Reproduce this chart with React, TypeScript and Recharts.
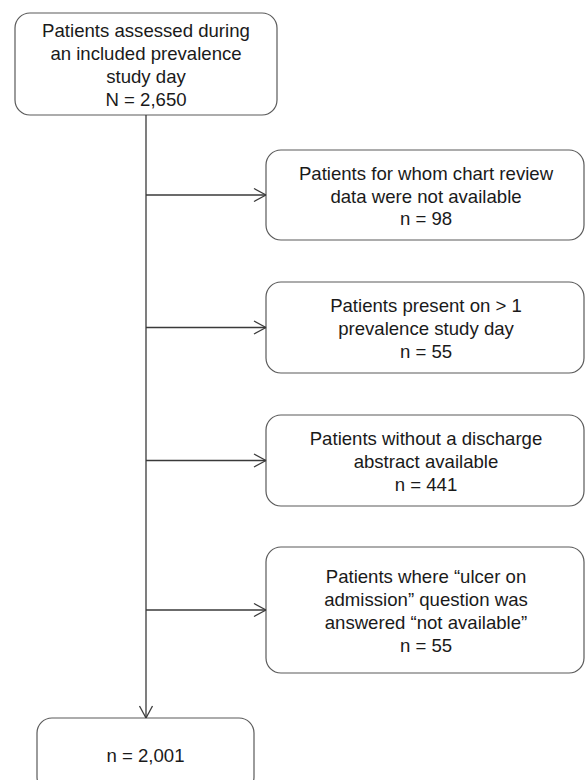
import React from "react";
import {
  ScatterChart,
  Scatter,
  XAxis,
  YAxis,
  ReferenceArea,
  ReferenceLine,
} from "recharts";

// flowchart content
const startLabel = ["Patients assessed during", "an included prevalence", "study day"];
const startCount = 2650;
const exclusionLabels = [
  ["Patients for whom chart review", "data were not available"],
  ["Patients present on > 1", "prevalence study day"],
  ["Patients without a discharge", "abstract available"],
  ["Patients where \u201Culcer on", "admission\u201D question was", "answered \u201Cnot available\u201D"],
];
const exclusionCounts = [98, 55, 441, 55];
const finalCount = 2001;

// layout (pixels == data units, chart is 585 x 780)
const W = 585;
const H = 780;
const SPINE_X = 146;
const START_BOX = { x1: 15, x2: 277, y1: 13, y2: 115 };
const SIDE_X = [266, 584];
const SIDE_Y = [
  [150, 240],
  [282, 373],
  [415, 506],
  [547, 673],
];
const FINAL_BOX = { x1: 37, x2: 254, y1: 718, y2: 792 };

const FONT = "'Liberation Sans', Arial, Helvetica, sans-serif";
const FONT_SIZE = 18.6;
const LINE_H = 22.7;
const BOX_STROKE = "#5a5a5a";
const LINE_STROKE = "#3a3a3a";

const fmt = (n: number) => n.toLocaleString("en-US");

const boxes = [
  { ...START_BOX },
  ...SIDE_Y.map(([y1, y2]) => ({ x1: SIDE_X[0], x2: SIDE_X[1], y1, y2 })),
  { ...FINAL_BOX },
];

const textPoints = [
  {
    x: (START_BOX.x1 + START_BOX.x2) / 2,
    y: (START_BOX.y1 + START_BOX.y2) / 2 + 1,
    lines: [...startLabel, `N = ${fmt(startCount)}`],
  },
  ...exclusionLabels.map((lbl, i) => ({
    x: (SIDE_X[0] + SIDE_X[1]) / 2 + 1,
    y: (SIDE_Y[i][0] + SIDE_Y[i][1]) / 2 + 1,
    lines: [...lbl, `n = ${fmt(exclusionCounts[i])}`],
  })),
  {
    x: (FINAL_BOX.x1 + FINAL_BOX.x2) / 2,
    y: 755,
    lines: [`n = ${fmt(finalCount)}`],
  },
];

const RoundBox = (p: any) => (
  <rect
    x={p.x}
    y={p.y}
    width={p.width}
    height={p.height}
    rx={15}
    ry={15}
    fill="#fff"
    stroke={BOX_STROKE}
    strokeWidth={1.2}
  />
);

const TextBlock = (p: any) => {
  const lines: string[] = p.payload.lines;
  const top = p.cy - ((lines.length - 1) * LINE_H) / 2;
  return (
    <g>
      {lines.map((t, i) => (
        <text
          key={i}
          x={p.cx}
          y={top + i * LINE_H}
          textAnchor="middle"
          dominantBaseline="central"
          fontFamily={FONT}
          fontSize={FONT_SIZE}
          fill="#1a1a1a"
        >
          {t}
        </text>
      ))}
    </g>
  );
};

export default function App() {
  const arrowYs = SIDE_Y.map(([a, b]) => (a + b) / 2);
  return (
    <div style={{ position: "absolute", left: 0, top: 0, width: W, height: H, background: "#fff" }}>
      <ScatterChart width={W} height={H} margin={{ top: 0, right: 0, bottom: 0, left: 0 }}>
        <XAxis type="number" dataKey="x" domain={[0, W]} hide allowDataOverflow />
        <YAxis type="number" dataKey="y" domain={[0, H]} reversed hide allowDataOverflow />

        {/* main spine */}
        <ReferenceLine
          segment={[
            { x: SPINE_X, y: START_BOX.y2 },
            { x: SPINE_X, y: FINAL_BOX.y1 },
          ]}
          stroke={LINE_STROKE}
          strokeWidth={1.3}
          ifOverflow="visible"
        />
        <ReferenceLine
          segment={[
            { x: SPINE_X - 6.5, y: FINAL_BOX.y1 - 12 },
            { x: SPINE_X, y: FINAL_BOX.y1 },
          ]}
          stroke={LINE_STROKE}
          strokeWidth={1.3}
          ifOverflow="visible"
        />
        <ReferenceLine
          segment={[
            { x: SPINE_X + 6.5, y: FINAL_BOX.y1 - 12 },
            { x: SPINE_X, y: FINAL_BOX.y1 },
          ]}
          stroke={LINE_STROKE}
          strokeWidth={1.3}
          ifOverflow="visible"
        />

        {/* side arrows */}
        {arrowYs.map((y, i) => (
          <ReferenceLine
            key={`h${i}`}
            segment={[
              { x: SPINE_X, y },
              { x: SIDE_X[0], y },
            ]}
            stroke={LINE_STROKE}
            strokeWidth={1.3}
            ifOverflow="visible"
          />
        ))}
        {arrowYs.map((y, i) => (
          <ReferenceLine
            key={`a${i}`}
            segment={[
              { x: SIDE_X[0] - 12, y: y - 6.5 },
              { x: SIDE_X[0], y },
            ]}
            stroke={LINE_STROKE}
            strokeWidth={1.3}
            ifOverflow="visible"
          />
        ))}
        {arrowYs.map((y, i) => (
          <ReferenceLine
            key={`b${i}`}
            segment={[
              { x: SIDE_X[0] - 12, y: y + 6.5 },
              { x: SIDE_X[0], y },
            ]}
            stroke={LINE_STROKE}
            strokeWidth={1.3}
            ifOverflow="visible"
          />
        ))}

        {/* boxes */}
        {boxes.map((b, i) => (
          <ReferenceArea
            key={`box${i}`}
            x1={b.x1}
            x2={b.x2}
            y1={b.y1}
            y2={b.y2}
            ifOverflow="visible"
            shape={(p: any) => <RoundBox {...p} />}
          />
        ))}

        <Scatter data={textPoints} shape={(p: any) => <TextBlock {...p} />} isAnimationActive={false} />
      </ScatterChart>
    </div>
  );
}
